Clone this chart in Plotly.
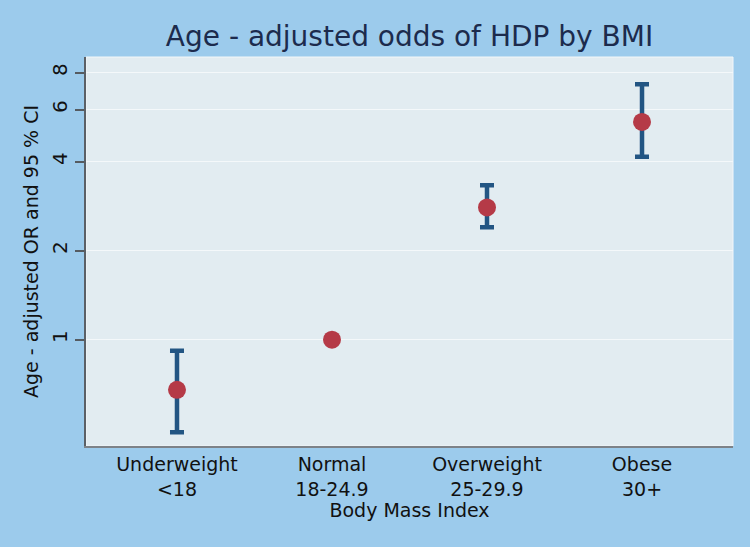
import plotly.graph_objects as go

categories = ["Underweight<br><18", "Normal<br>18-24.9", "Overweight<br>25-29.9", "Obese<br>30+"]
positions = [1, 2, 3, 4]
odds_ratio = [0.677, 1.0, 2.80, 5.45]
ci_lower = [0.486, None, 2.40, 4.16]
ci_upper = [0.918, None, 3.33, 7.31]
y_ticks = [1, 2, 4, 6, 8]

err_plus = [None if u is None else u - v for u, v in zip(ci_upper, odds_ratio)]
err_minus = [None if l is None else v - l for l, v in zip(ci_lower, odds_ratio)]

fig = go.Figure()
fig.add_trace(go.Scatter(
    x=positions, y=odds_ratio, mode="markers",
    marker=dict(size=18, color="#b53a47"),
    error_y=dict(type="data", symmetric=False, array=err_plus, arrayminus=err_minus,
                 color="#225583", thickness=4.5, width=7),
    showlegend=False,
))

font_family = "DejaVu Sans, Verdana, sans-serif"
fig.update_layout(
    width=750, height=547,
    margin=dict(l=86, r=17, t=57, b=101),
    paper_bgcolor="#9ccbec",
    plot_bgcolor="#e2ecf1",
    font=dict(family=font_family, color="#111111", size=19),
    title=dict(text="Age - adjusted odds of HDP by BMI", x=0.546, xanchor="center",
               y=0.934, yanchor="middle",
               font=dict(size=28, color="#1c2b4d", family=font_family)),
    shapes=[dict(type="rect", xref="paper", yref="paper", x0=0, x1=1, y0=0, y1=1,
                 line=dict(color="#f3f7f9", width=1), layer="below")],
)
fig.update_xaxes(
    range=[0.413, 4.587], tickvals=positions, ticktext=categories,
    showgrid=False, zeroline=False, ticks="", tickfont=dict(size=19),
    showline=True, linecolor="#7d8288", linewidth=2, mirror=False,
    title=dict(text="Body Mass Index", font=dict(size=19), standoff=2),
)
fig.update_yaxes(
    type="log", range=[-0.3595, 0.956],
    tickvals=y_ticks, ticktext=[str(t) for t in y_ticks], tickangle=-90,
    showgrid=True, gridcolor="#f4f8fa", gridwidth=1.2, zeroline=False,
    ticks="outside", ticklen=9, tickcolor="#555b61", tickwidth=1.5,
    showline=True, linecolor="#5b6066", linewidth=2,
    tickfont=dict(size=20),
    title=dict(text="Age - adjusted OR and 95 % CI", font=dict(size=19), standoff=4),
)
fig.write_html("out.html", config={"displayModeBar": False},
               post_script="document.body.style.margin='0px';")
